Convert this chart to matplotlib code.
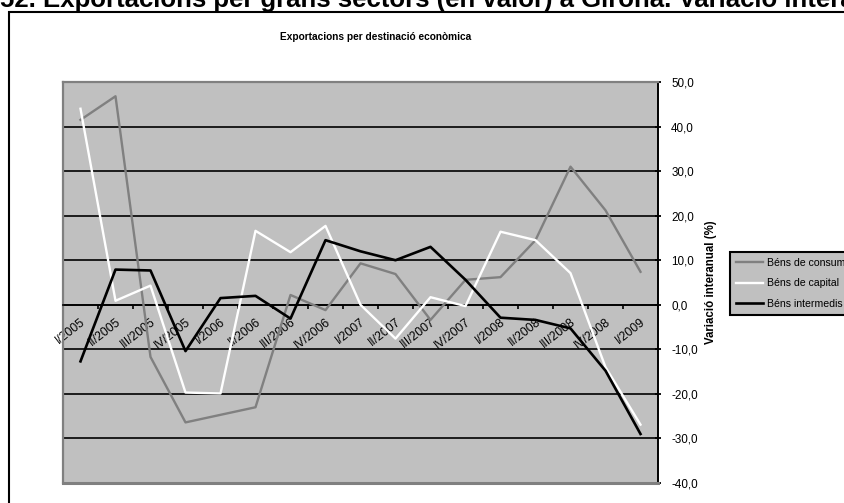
import matplotlib.pyplot as plt
from matplotlib.patches import Rectangle

# quarters on the x axis
quarters = ['I/2005', 'II/2005', 'III/2005', 'IV/2005', 'I/2006', 'II/2006', 'III/2006', 'IV/2006',
            'I/2007', 'II/2007', 'III/2007', 'IV/2007', 'I/2008', 'II/2008', 'III/2008', 'IV/2008', 'I/2009']

# year-on-year change (%) per economic destination
consum = [41.5, 46.8, -11.7, -26.4, -24.7, -23.0, 2.2, -1.2, 9.3, 6.9, -3.4, 5.6, 6.2, 14.5, 31.0, 21.2, 7.4]
capital = [44.0, 0.9, 4.3, -19.7, -19.9, 16.6, 11.8, 17.7, 0.0, -7.6, 1.7, -0.3, 16.4, 14.5, 7.1, -14.0, -26.9]
intermedis = [-12.7, 7.9, 7.7, -10.4, 1.5, 2.0, -3.1, 14.5, 12.0, 10.0, 13.0, 5.6, -2.9, -3.4, -5.3, -14.8, -29.0]

series_names = ['Béns de consum', 'Béns de capital', 'Béns intermedis']
y_ticks = [-40, -30, -20, -10, 0, 10, 20, 30, 40, 50]
y_tick_labels = ['-40,0', '-30,0', '-20,0', '-10,0', '0,0', '10,0', '20,0', '30,0', '40,0', '50,0']

plt.rcParams['font.family'] = ['Liberation Sans', 'DejaVu Sans']

fig = plt.figure(figsize=(8.45, 5.03), dpi=100)
fig.patch.set_facecolor('white')

# outer frame of the chart object
fig.add_artist(Rectangle((9 / 845, -0.1), 1.2, 1 - 11.5 / 503 + 0.1, transform=fig.transFigure,
                         fill=False, edgecolor='black', linewidth=1.5, clip_on=False))

fig.text(0, 1 - 7 / 503, '52. Exportacions per grans sectors (en valor) a Girona. Variació interanual',
         fontsize=18.5, fontweight='bold', ha='left', va='baseline')

fig.text(376 / 845, 1 - 37 / 503, 'Exportacions per destinació econòmica',
         fontsize=7.3, fontweight='bold', ha='center', va='center')

ax = fig.add_axes([63 / 845, 20 / 503, 595 / 845, 401 / 503])
ax.set_facecolor('#C0C0C0')

x = list(range(len(quarters)))
ax.plot(x, consum, color='#808080', linewidth=1.7, label=series_names[0], zorder=4)
ax.plot(x, capital, color='white', linewidth=1.7, label=series_names[1], zorder=4)
ax.plot(x, intermedis, color='black', linewidth=1.9, label=series_names[2], zorder=5)

ax.set_xlim(-0.5, len(quarters) - 0.5)
ax.set_ylim(-40, 50)

# y axis on the right
ax.yaxis.tick_right()
ax.yaxis.set_label_position('right')
ax.set_yticks(y_ticks)
ax.set_yticklabels(y_tick_labels)
ax.tick_params(axis='y', direction='inout', length=5, width=1.3, pad=7, labelsize=8.4)
ax.set_ylabel('Variació interanual (%)', fontsize=8.3, fontweight='bold', labelpad=5)
ax.grid(axis='y', color='black', linewidth=1.2)
ax.set_axisbelow(True)

# category axis crossing at zero
ax.spines['bottom'].set_position(('data', 0))
ax.spines['bottom'].set_color('black')
ax.spines['bottom'].set_linewidth(1.2)
ax.set_xticks([i - 0.5 for i in range(len(quarters) + 1)])
ax.set_xticklabels([])
ax.set_xticks(x, minor=True)
ax.set_xticklabels(quarters, minor=True, rotation=38, ha='right', va='top',
                   rotation_mode='anchor', fontsize=8.7)
ax.tick_params(axis='x', which='major', direction='out', length=3, width=1.2)
ax.tick_params(axis='x', which='minor', length=0, pad=8)

for side in ['left', 'top']:
    ax.spines[side].set_color('#808080')
    ax.spines[side].set_linewidth(1.6)
ax.spines['right'].set_color('black')
ax.spines['right'].set_linewidth(1.4)
ax.axhline(-40, color='#808080', linewidth=2.2, clip_on=False, zorder=6)

leg = fig.legend(loc='upper left', bbox_to_anchor=(730 / 845, 1 - 252 / 503), fontsize=7.6,
                 handlelength=2.6, handletextpad=0.4, labelspacing=1.0, borderpad=0.55,
                 borderaxespad=0, fancybox=False, framealpha=1)
leg.get_frame().set_facecolor('#C0C0C0')
leg.get_frame().set_edgecolor('black')
leg.get_frame().set_linewidth(1.5)

plt.savefig('out.png', dpi=100)
